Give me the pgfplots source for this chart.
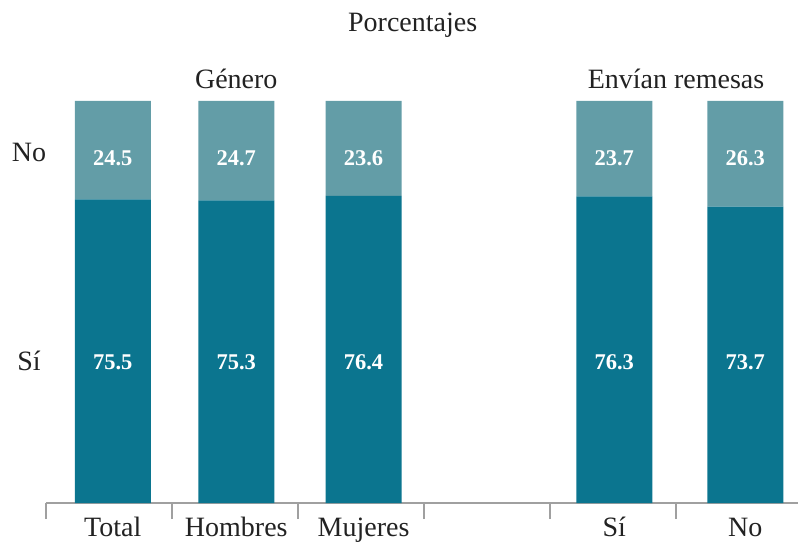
\documentclass[border=0pt]{standalone}
\usepackage{fontspec}
\setmainfont{Liberation Serif}
\usepackage{pgfplots}
\pgfplotsset{compat=1.18}

\definecolor{siColor}{RGB}{11,117,143}
\definecolor{noColor}{RGB}{99,157,167}
\definecolor{axGray}{RGB}{160,160,160}
\definecolor{txt}{RGB}{34,34,34}

\pgfplotsset{
  frame/.style={scale only axis, width=756pt, height=402pt,
    xmin=-0.5, xmax=5.5, ymin=0, ymax=100, clip=false},
}
\newcommand{\lbl}{\fontsize{28}{31}\selectfont}

\begin{document}
\begin{tikzpicture}
\begin{axis}[
    frame,
    ybar stacked, bar width=76pt,
    axis x line*=bottom,
    axis y line*=left,
    x axis line style={draw=axGray, line width=1.5pt},
    y axis line style={draw=none},
    xtick={0.03,1.01,2.02,4.01,5.05},
    xticklabels={Total,Hombres,Mujeres,Sí,No},
    minor xtick={-0.5,0.5,1.5,2.5,3.5,4.5},
    tick align=outside,
    major tick length=0pt,
    minor tick length=16pt,
    minor x tick style={draw=axGray, line width=1.5pt},
    xticklabel style={font=\lbl, text=txt, anchor=base, yshift=-33pt},
    ytick={35.3,87.3},
    yticklabels={Sí,No},
    yticklabel style={font=\lbl, text=txt, anchor=center, xshift=-17pt},
]
% Sí
\addplot[fill=siColor, draw=none]
  coordinates {(0.03,75.5) (1.01,75.3) (2.02,76.4) (4.01,76.3) (5.05,73.7)};
% No
\addplot[fill=noColor, draw=none]
  coordinates {(0.03,24.5) (1.01,24.7) (2.02,23.6) (4.01,23.7) (5.05,26.3)};

\node[font=\lbl, text=txt, anchor=base] at (axis cs:2.41,117.2) {Porcentajes};
\node[font=\lbl, text=txt, anchor=base] at (axis cs:1.01,103) {Género};
\node[font=\lbl, text=txt, anchor=base] at (axis cs:4.5,103.2) {Envían remesas};
\coordinate (O) at (axis cs:-0.5,0);
\end{axis}

% value labels, set at a fixed height inside each segment
\begin{axis}[
    frame, hide axis,
    point meta=explicit,
    nodes near coords={\pgfmathprintnumber[fixed,fixed zerofill,precision=1,assume math mode=true]{\pgfplotspointmeta}},
    every node near coord/.append style={font=\fontsize{22.5}{25}\selectfont\bfseries, text=white, anchor=center},
]
\addplot[only marks, mark=none]
  coordinates {(0.03,35.1)[75.5] (1.01,35.1)[75.3] (2.02,35.1)[76.4] (4.01,35.1)[76.3] (5.05,35.1)[73.7]};
\addplot[only marks, mark=none]
  coordinates {(0.03,85.8)[24.5] (1.01,85.8)[24.7] (2.02,85.8)[23.6] (4.01,85.8)[23.7] (5.05,85.8)[26.3]};
\end{axis}
\pgfresetboundingbox
\path[use as bounding box] ([shift={(-46pt,-38pt)}]O) rectangle ([shift={(752pt,503pt)}]O);
\end{tikzpicture}
\end{document}
